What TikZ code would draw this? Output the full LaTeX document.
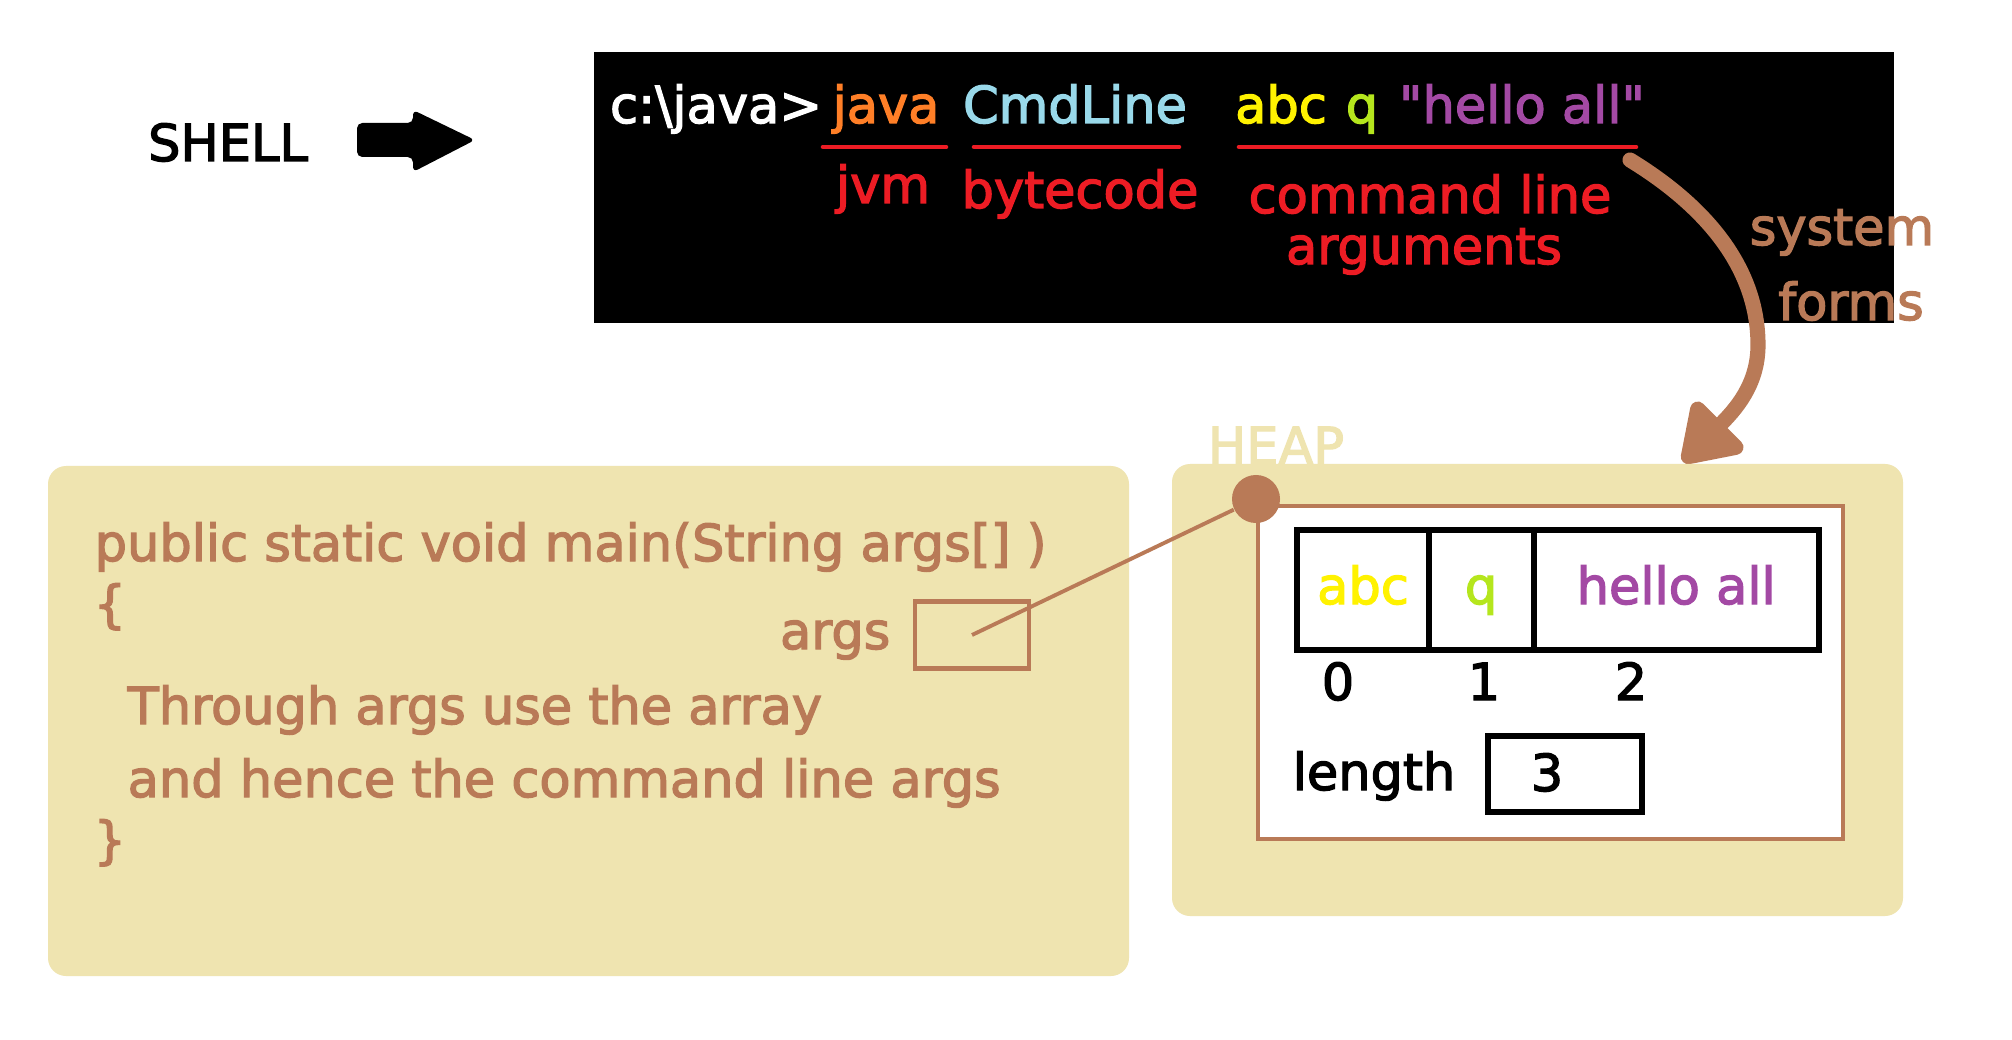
\documentclass[tikz,border=0pt]{standalone}
\usepackage{fontspec}
\setmainfont{DejaVu Sans}[FakeBold=2.5]
\usepackage{tikz}
\usetikzlibrary{arrows.meta,positioning}
\definecolor{paintbrown}{HTML}{B97A57}
\definecolor{paintbeige}{HTML}{EFE4B0}
\definecolor{paintred}{HTML}{ED1C24}
\definecolor{paintorange}{HTML}{FF7F27}
\definecolor{paintblue}{HTML}{99D9EA}
\definecolor{paintyellow}{HTML}{FFF200}
\definecolor{paintgreen}{HTML}{B5E61D}
\definecolor{paintpurple}{HTML}{A349A4}
\tikzstyle{word}=[inner sep=0pt, anchor=base, font=\fontsize{14.5}{17}\selectfont]
\tikzstyle{panel}=[fill=paintbeige, rounded corners=0.18cm]
\tikzstyle{cell}=[draw=black, line width=1.7pt, minimum height=1.2cm, text height=0.3cm, text depth=0.02cm,
    inner sep=0pt, outer sep=0pt, font=\fontsize{14.5}{17}\selectfont]
\tikzstyle{uline}=[draw=paintred, line width=1.3pt, line cap=round]
\providecommand{\word}{\node[word]}

\begin{document}
\begin{tikzpicture}[x=0.01cm, y=-0.01cm,
    sysarrow/.style={draw=paintbrown, line width=4.3pt, line cap=round,
        -{Triangle[length=0.62cm, width=0.78cm, round]}},
    ptr/.style={draw=paintbrown, line width=1.1pt}
]
\useasboundingbox (0,0) rectangle (2012,1040);
\fill[white] (0,0) rectangle (2012,1040);

\word (shell) at (228,161) {SHELL};
\fill[rounded corners=1.5pt] (357,123) -- (413,123) -- (413,110) -- (475,140) -- (413,172) -- (413,157) -- (357,157) -- cycle;

\fill[black] (594,52) rectangle (1894,323);
\word (prompt) at (716,123) [text=white] {c:\textbackslash java>};
\word (jvmcmd) at (886,123) [text=paintorange] {java};
\word (classname) at (1075,123) [text=paintblue] {CmdLine};
\word (arg0) at (1281,123) [text=paintyellow] {abc};
\word (arg1) at (1362,123) [text=paintgreen] {q};
\word (arg2) at (1522,123) [text=paintpurple] {\textquotedbl hello all\textquotedbl};
\draw[uline] (823,147) -- (946,147);
\draw[uline] (974,147) -- (1179,147);
\draw[uline] (1239,147) -- (1636,147);
\word (jvm) at (883,203) [text=paintred] {jvm};
\word (bytecode) at (1080,208) [text=paintred] {bytecode};
\word (cmdline) at (1430,213) [text=paintred] {command line};
\word (arguments) at (1424,264) [text=paintred] {arguments};

\coordinate (sysfrom) at (1630,160);
\coordinate (systo) at (1683,462);
\draw[sysarrow] (sysfrom) .. controls (1715,212) and (1758,275) .. (1758,345) .. controls (1758,385) and (1735,410) .. (systo);
\word (system) at (1842,245) [text=paintbrown] {system};
\word (forms) at (1851,320) [text=paintbrown] {forms};

\path[panel] (48,466) rectangle (1129,976);
\word (sig) at (94,561) [anchor=base west, text=paintbrown] {public static void main(String args[] )};
\word (open) at (93,622) [anchor=base west, text=paintbrown] {\{};
\word (argname) at (891,649) [anchor=base east, text=paintbrown] {args};
\node[draw=paintbrown, line width=1.15pt, minimum width=1.14cm, minimum height=0.67cm, inner sep=0pt] (argbox) at (972,635) {};
\word (through) at (127,724) [anchor=base west, text=paintbrown] {Through args use the array};
\word (hence) at (127,797) [anchor=base west, text=paintbrown] {and hence the command line args};
\word (close) at (93,858) [anchor=base west, text=paintbrown] {\}};

\path[panel] (1172,464) rectangle (1903,916);
\word (heaplabel) at (1276,464) [text=paintbeige] {HEAP};
\draw[draw=paintbrown, line width=1.4pt, fill=white] (1258,506) rectangle (1843,839);
\node[cell, text=paintyellow, minimum width=1.31cm] (cell0) at (1363,590) {abc};
\node[cell, text=paintgreen, minimum width=1.05cm, right=0pt of cell0] (cell1) {q};
\node[cell, text=paintpurple, minimum width=2.85cm, right=0pt of cell1] (cell2) {hello all};
\word (idx0) at (1338,700) {0};
\word (idx1) at (1484,700) {1};
\word (idx2) at (1631,700) {2};
\word (lenlabel) at (1374,790) {length};
\node[draw=black, line width=1.7pt, minimum width=1.53cm, minimum height=0.75cm, inner sep=0pt] (lenbox) at (1565,774) {};
\word (lenval) at (1547,791) {3};

\node[circle, fill=paintbrown, minimum size=0.48cm, inner sep=0pt] (heapdot) at (1256,499) {};
\draw[ptr] (argbox.center) -- (heapdot);
\end{tikzpicture}
\end{document}
